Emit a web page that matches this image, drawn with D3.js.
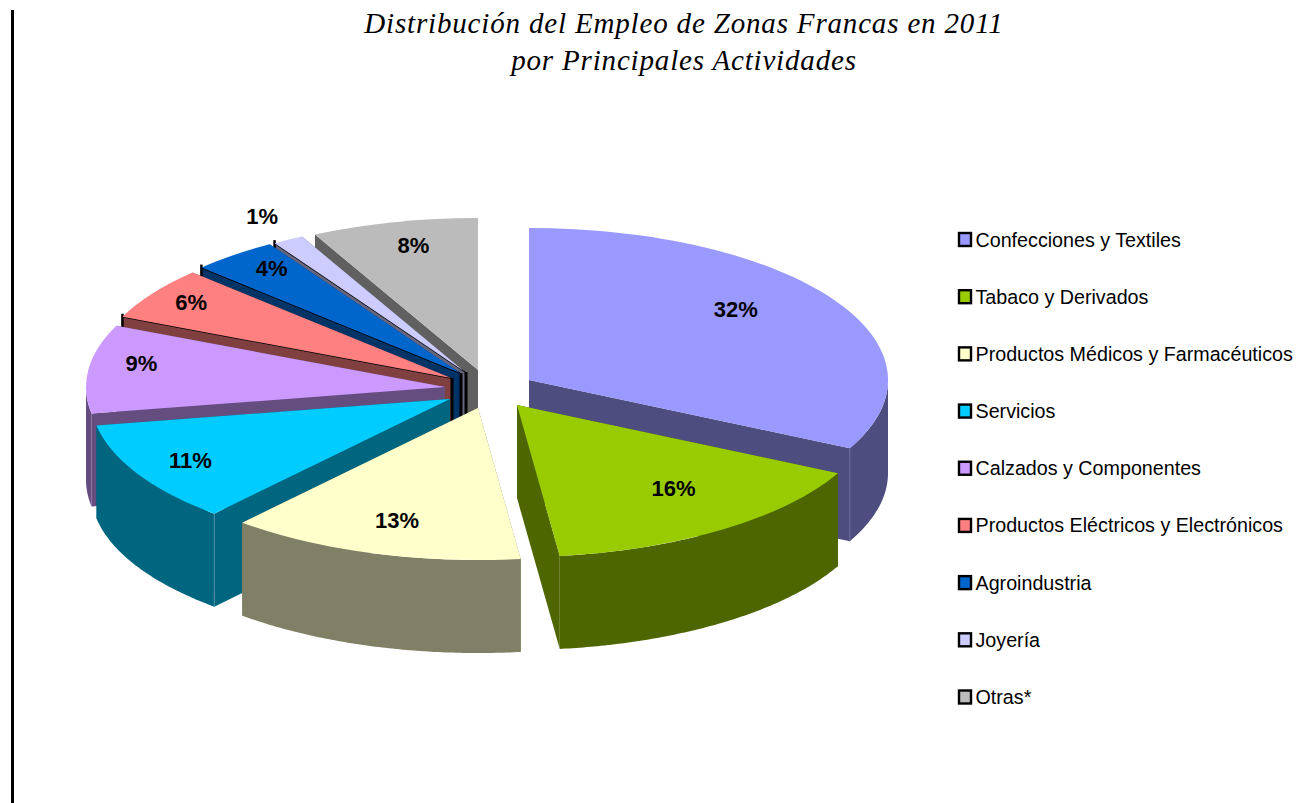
<!DOCTYPE html>
<html><head><meta charset="utf-8">
<script src="https://cdn.jsdelivr.net/npm/d3@7"></script>
<style>html,body{margin:0;padding:0;background:#fff;overflow:hidden}svg{display:block}</style>
</head><body>
<script>
const categories = ["Confecciones y Textiles","Tabaco y Derivados","Productos Médicos y Farmacéuticos","Servicios","Calzados y Componentes","Productos Eléctricos y Electrónicos","Agroindustria","Joyería","Otras*"];
const shares = [32.4,15.7,13.3,10.8,9.4,5.6,3.9,1.4,7.5];
const topColors = ["#9999FF","#99CC00","#FFFFCC","#00CCFF","#CC99FF","#FF8080","#0066CC","#CCCCFF","#BBBBBB"];
const sideColors = ["#4D4D80","#4D6600","#808066","#006680","#664D80","#804040","#003366","#666680","#606060"];
const titleLines = ["Distribución del Empleo de Zonas Francas en 2011","por Principales Actividades"];
// layout only
const apexX = [529,517,478,450,445,451,460,465,478];
const apexY = [380,405,408,399,387,378,373,372,370];
const labelDX = [-7,12,-7,-41,-54,-51,-30,-79,-6];
const labelDY = [-15,-4,11,9,-11,-16,-22,-63,-21];
const blackEdged = [5,6,7];
const drawOrder = [8,7,6,5,4,3,2,0,1];
const W=1301,H=803,rx=359,ry=152,depth=93,labelK=0.7;

const svg=d3.select("body").append("svg").attr("width",W).attr("height",H);
svg.append("rect").attr("x",11).attr("y",10).attr("width",3).attr("height",H-10).attr("fill","#000");

svg.append("g").selectAll("text").data(titleLines).join("text")
  .attr("x",684).attr("y",(d,i)=>33+i*37).attr("text-anchor","middle")
  .attr("font-family","'Liberation Serif'").attr("font-style","italic").attr("font-size",29)
  .attr("letter-spacing",0.83).attr("fill","#000").text(d=>d);

const arcs=d3.pie().sort(null).value(d=>d)(shares);
const px=d3.scaleLinear().domain([-1,1]).range([-rx,rx]);
const py=d3.scaleLinear().domain([-1,1]).range([ry,-ry]);
const ex=(i,a)=>apexX[i]+px(Math.sin(a));
const ey=(i,a)=>apexY[i]+py(Math.cos(a));
const poly=d3.line();
const pie=d3.select("svg").append("g");
const topArc=d3.arc().innerRadius(0).outerRadius(rx);

drawOrder.forEach(i=>{
  const s=arcs[i],a0=s.startAngle,a1=s.endAngle,g=pie.append("g");
  const face=a=>[[apexX[i],apexY[i]],[ex(i,a),ey(i,a)],[ex(i,a),ey(i,a)+depth],[apexX[i],apexY[i]+depth]];
  g.append("path").attr("d",poly(face(a1))+"Z").attr("fill",sideColors[i]);
  g.append("path").attr("d",poly(face(a0))+"Z").attr("fill",sideColors[i]);
  const lo=Math.max(a0,Math.PI/2),hi=Math.min(a1,3*Math.PI/2);
  if(hi>lo){
    const angles=d3.range(lo,hi,0.01).concat([hi]);
    const rim=d3.area().x(a=>ex(i,a)).y0(a=>ey(i,a)).y1(a=>ey(i,a)+depth);
    g.append("path").attr("d",rim(angles)).attr("fill",sideColors[i]);
  }
  if(blackEdged.includes(i)){
    g.append("path").attr("d",poly([[ex(i,a0),ey(i,a0)],[apexX[i],apexY[i]]])).attr("stroke","#000").attr("stroke-width",1.5).attr("fill","none");
    g.append("path").attr("d",poly([[ex(i,a0),ey(i,a0)-3],[ex(i,a0),ey(i,a0)+depth]])).attr("stroke","#000").attr("stroke-width",2.5).attr("fill","none");
    g.append("path").attr("d",poly([[apexX[i]+1,apexY[i]],[apexX[i]+1,apexY[i]+depth]])).attr("stroke","#000").attr("stroke-width",3).attr("fill","none");
  }
  g.append("path").attr("d",topArc({startAngle:a0,endAngle:a1}))
    .attr("transform",`translate(${apexX[i]},${apexY[i]}) scale(1,${ry/rx})`)
    .attr("fill",topColors[i]);
  if(i===0||i===3){
    const e=i===0?a1:a0;
    g.append("path").attr("d",poly([[ex(i,e),ey(i,e)],[ex(i,e),ey(i,e)+depth]])).attr("stroke",i===0?"#6A6A98":"#4A8AA0").attr("stroke-width",1).attr("fill","none");
  }
});

svg.append("g").selectAll("text").data(arcs).join("text")
  .attr("x",(d,i)=>{const m=(d.startAngle+d.endAngle)/2;return apexX[i]+px(labelK*Math.sin(m))-px(0)+labelDX[i];})
  .attr("y",(d,i)=>{const m=(d.startAngle+d.endAngle)/2;return apexY[i]+py(labelK*Math.cos(m))-py(0)+labelDY[i]+7.5;})
  .attr("text-anchor","middle").attr("font-family","'Liberation Sans'").attr("font-weight","bold")
  .attr("font-size",22).attr("fill","#000").text(d=>Math.round(d.data)+"%");

const rowY=d3.scalePoint().domain(categories).range([239.5,697]);
const leg=svg.append("g").selectAll("g").data(categories).join("g").attr("transform",d=>`translate(0,${rowY(d)})`);
leg.append("rect").attr("x",959).attr("y",-6.5).attr("width",12).attr("height",13)
  .attr("fill",(d,i)=>topColors[i]).attr("stroke","#000").attr("stroke-width",2.4);
leg.append("text").attr("x",975.5).attr("y",7).attr("font-family","'Liberation Sans'").attr("font-size",19.7)
  .attr("fill","#000").text(d=>d);
</script>
</body></html>
